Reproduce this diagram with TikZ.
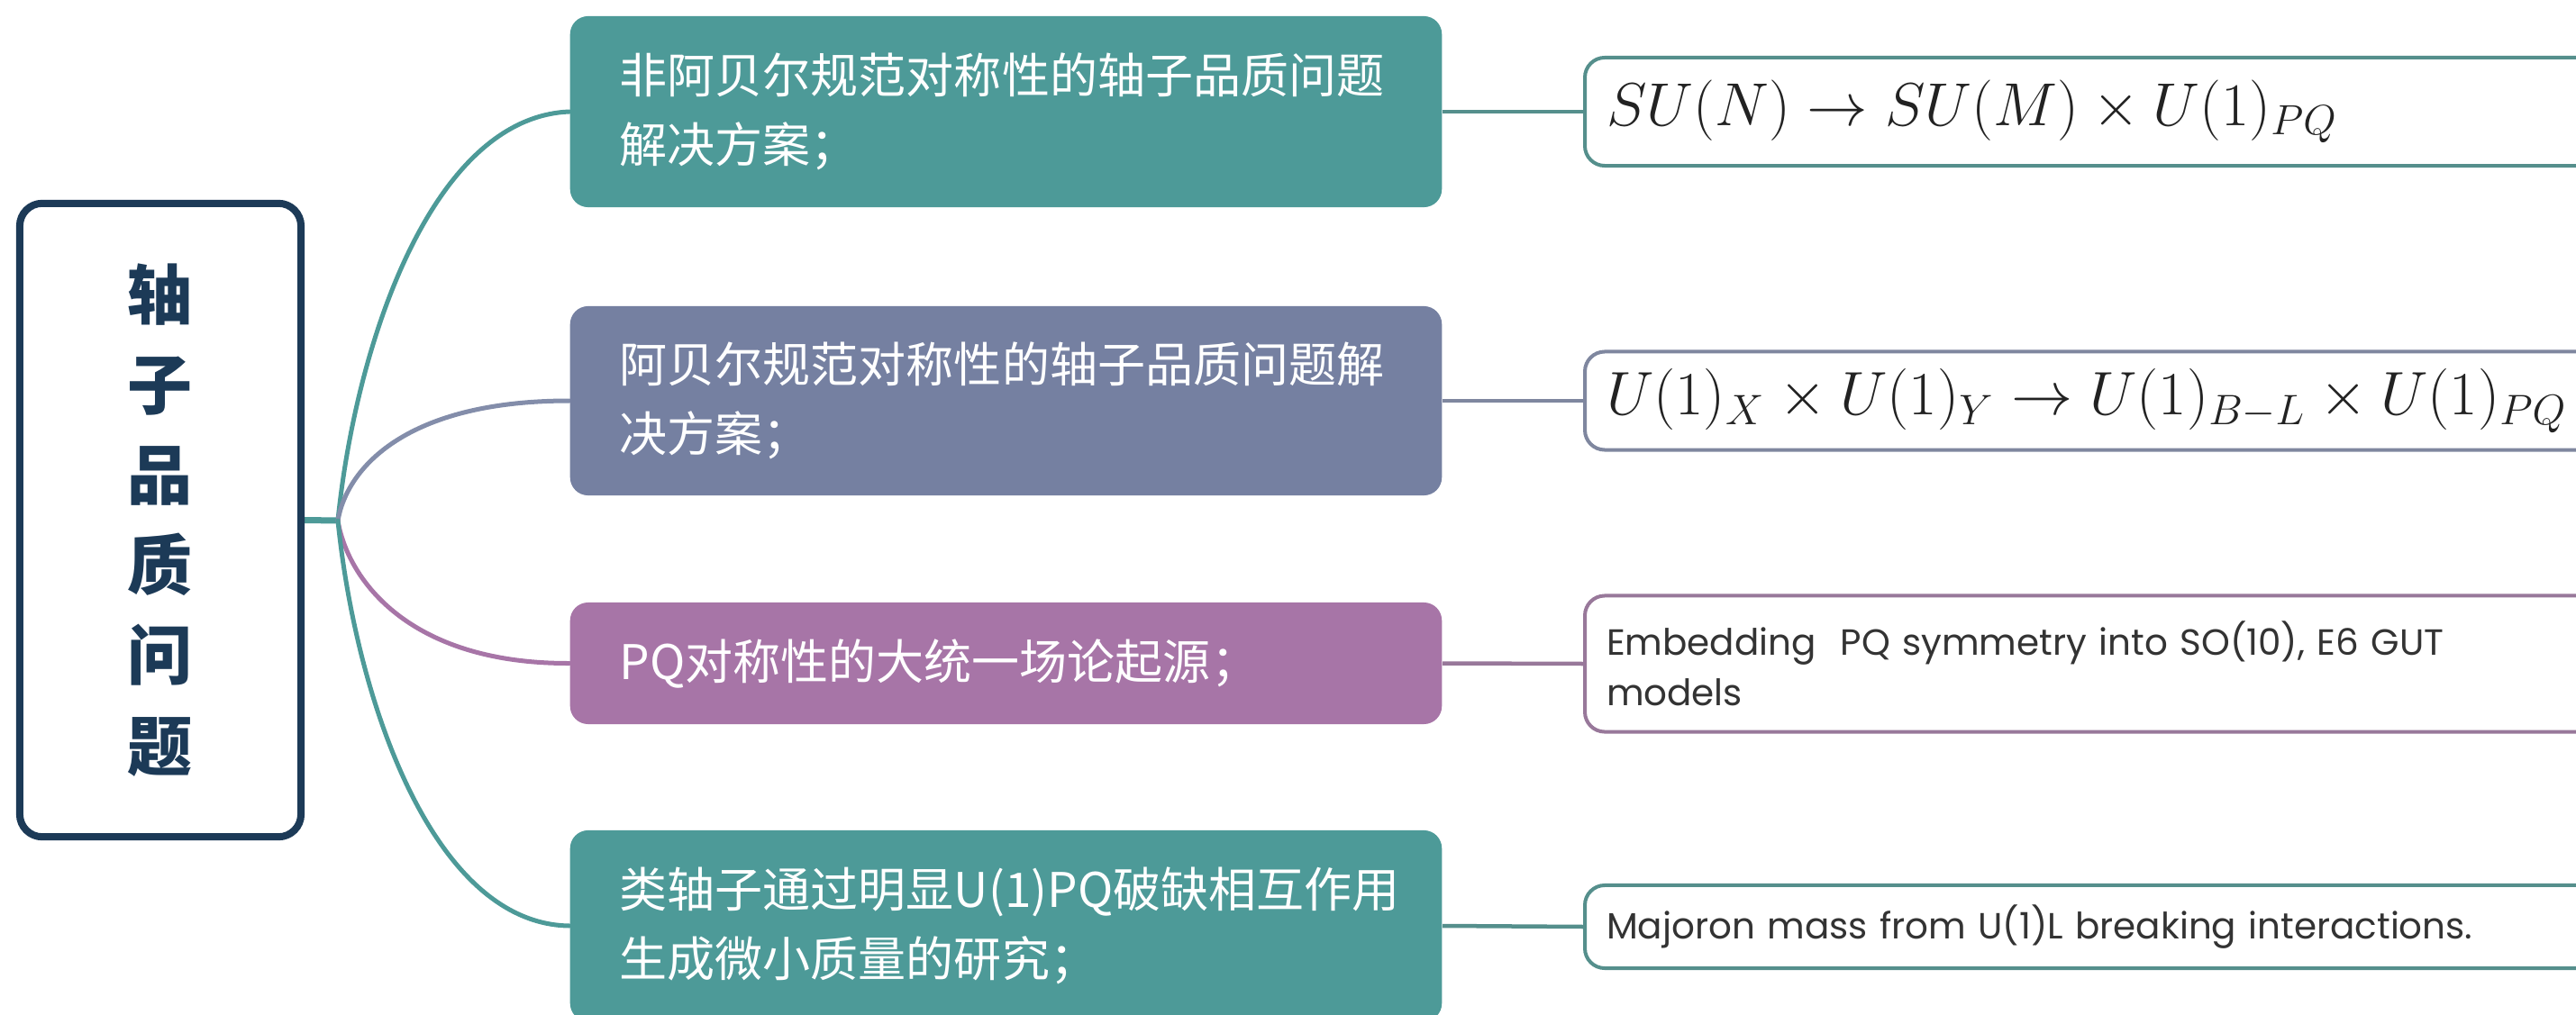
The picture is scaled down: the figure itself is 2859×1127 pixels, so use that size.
\documentclass[tikz,border=0pt]{standalone}
\usepackage{graphicx}
\usepackage{fontspec}
\usetikzlibrary{backgrounds}
\newfontfamily\cjk{Noto Sans CJK SC}
\newfontfamily\geosans{Poppins}
\definecolor{tealc}{HTML}{4D9A98}
\definecolor{slatec}{HTML}{7580A1}
\definecolor{mauvec}{HTML}{A775A7}
\definecolor{navyc}{HTML}{1C3A57}
\definecolor{tealb}{HTML}{558F8C}
\definecolor{slateb}{HTML}{7F879F}
\definecolor{mauveb}{HTML}{98789A}
\definecolor{inkc}{HTML}{222222}
\definecolor{grayc}{HTML}{333333}
\begin{document}
\begin{tikzpicture}[x=0.01cm,y=-0.01cm,
  rootbox/.style={draw=navyc, line width=0.08cm, rounded corners=0.25cm, fill=white,
    minimum width=3.12cm, minimum height=7.03cm, inner sep=0pt, align=center, text=navyc,
    font=\cjk\bfseries\fontsize{20.5pt}{28.45pt}\selectfont},
  mainbox/.style={rounded corners=0.2cm, inner xsep=0.55cm, inner ysep=0pt,
    text width=8.57cm, align=left, text=white,
    font=\cjk\fontsize{15.08pt}{21.9pt}\selectfont},
  formbox/.style={draw, line width=0.04cm, rounded corners=0.22cm, fill=white, anchor=west,
    inner xsep=0.24cm, inner ysep=0pt, text width=11.5cm, align=left},
  mathtext/.style={text=inkc, font=\fontsize{20.74pt}{24pt}\selectfont},
  plaintext/.style={text=grayc, font=\geosans\fontsize{11.5pt}{15.9pt}\selectfont},
  link/.style={line width=0.05cm, line cap=round},
  flink/.style={line width=0.045cm}
]
\useasboundingbox (0,0) rectangle (2859,1127);
\clip (0,0) rectangle (2859,1127);

% root
\node[rootbox] (r) at (178,577.5) {轴\\子\\品\\质\\问\\题};
\coordinate (j) at (375,578);

% main boxes
\node[mainbox, fill=tealc, minimum height=2.12cm] (b1) at (1116.5,124)
  {非阿贝尔规范对称性的轴子品质问题\\解决方案；};
\node[mainbox, fill=slatec, minimum height=2.10cm] (b2) at (1116.5,445)
  {阿贝尔规范对称性的轴子品质问题解\\决方案；};
\node[mainbox, fill=mauvec, minimum height=1.35cm] (b3) at (1116.5,736.5)
  {PQ对称性的大统一场论起源；};
\node[mainbox, fill=tealc, minimum height=2.12cm] (b4) at (1116.5,1028)
  {类轴子通过明显U(1)PQ破缺相互作用\\生成微小质量的研究；};

% formula boxes
\node[formbox, draw=tealb, minimum height=1.20cm, mathtext] (f1) at (1757,124)
  {\scalebox{0.925}{$SU(N) \rightarrow SU(M) \times U(1)_{PQ}$}};
\node[formbox, draw=slateb, minimum height=1.09cm, mathtext] (f2) at (1757,445)
  {\scalebox{0.935}{$U(1)_X \times U(1)_Y \rightarrow U(1)_{B-L} \times U(1)_{PQ}$}};
\node[formbox, draw=mauveb, minimum height=1.51cm, plaintext] (f3) at (1757,737)
  {Embedding~~PQ symmetry into SO(10), E6 GUT\\models};
\node[formbox, draw=tealb, minimum height=0.92cm, plaintext] (f4) at (1757,1029)
  {Majoron mass from U(1)L breaking interactions.};

\begin{scope}[on background layer]
  \draw[tealc, line width=0.07cm] (r.east) -- (j);
  \draw[link, tealc] (j) .. controls (395,380) and (480,130) .. (b1.west);
  \draw[link, slatec!90!white] (j) .. controls (385,520) and (450,445) .. (b2.west);
  \draw[link, mauvec] (j) .. controls (385,640) and (450,737) .. (b3.west);
  \draw[link, tealc] (j) .. controls (395,776) and (480,1026) .. (b4.west);
  \draw[flink, tealb] (b1.east) -- (f1.west);
  \draw[flink, slateb] (b2.east) -- (f2.west);
  \draw[flink, mauveb] (b3.east) -- (f3.west);
  \draw[flink, tealb] (b4.east) -- (f4.west);
\end{scope}
\end{tikzpicture}
\end{document}
